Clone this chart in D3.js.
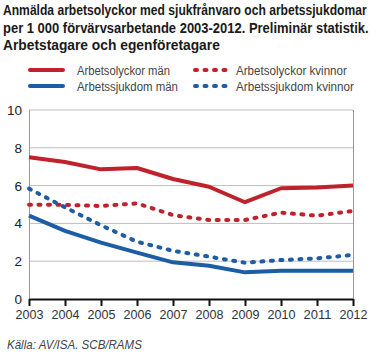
<!DOCTYPE html>
<html><head><meta charset="utf-8">
<script src="https://cdn.jsdelivr.net/npm/d3@7"></script>
<style>body{margin:0;background:#fff}svg{display:block}</style>
</head><body>
<script>
const years = [2003,2004,2005,2006,2007,2008,2009,2010,2011,2012];
const olyckorMan = [7.5,7.25,6.86,6.93,6.35,5.94,5.12,5.86,5.9,6.0];
const olyckorKvinnor = [4.99,4.98,4.92,5.06,4.44,4.18,4.18,4.57,4.41,4.66];
const sjukdomMan = [4.41,3.6,2.98,2.45,1.94,1.76,1.41,1.5,1.5,1.49];
const sjukdomKvinnor = [5.84,4.85,3.9,3.03,2.55,2.24,1.92,2.06,2.15,2.33];
const yTicks = [0,2,4,6,8,10];
const titleLines = ["Anmälda arbetsolyckor med sjukfrånvaro och arbetssjukdomar",
  "per 1 000 förvärvsarbetande 2003-2012. Preliminär statistik.",
  "Arbetstagare och egenföretagare"];
const source = "Källa: AV/ISA. SCB/RAMS";

const RED = "#c0222b", BLUE = "#1c5da4";
const series = [
  {name:"Arbetsolyckor män", values:olyckorMan, color:RED, dotted:false},
  {name:"Arbetsolyckor kvinnor", values:olyckorKvinnor, color:RED, dotted:true},
  {name:"Arbetssjukdom män", values:sjukdomMan, color:BLUE, dotted:false},
  {name:"Arbetssjukdom kvinnor", values:sjukdomKvinnor, color:BLUE, dotted:true}
];

const W = 383, H = 357;
const FONT = "'Liberation Sans', Arial, sans-serif";
const svg = d3.select("body").append("svg").attr("width", W).attr("height", H)
  .style("font-family", FONT);

// squeeze a text horizontally to a target width using a transform
function fitText(sel, x0, y0, target) {
  sel.attr("x", 0).attr("y", 0);
  const w = sel.node().getComputedTextLength();
  const s = Math.min(1, target / w);
  sel.attr("transform", `translate(${x0},${y0}) scale(${s},1)`);
}

// title
const titleW = [364, 366, 217];
svg.append("g").selectAll("text").data(titleLines).join("text")
  .attr("font-size", 14.5).attr("font-weight", "bold").attr("fill", "#1a1a1a")
  .text(d => d)
  .each(function(d,i){ fitText(d3.select(this), 3, 15 + i*17.6, titleW[i]); });

const x = d3.scaleLinear().domain([2003, 2012]).range([29, 353]);
const y = d3.scaleLinear().domain([0, 10]).range([299, 110]);

// grid
svg.append("g").selectAll("line").data(yTicks.filter(t => t > 0)).join("line")
  .attr("x1", 29).attr("x2", 353).attr("y1", d => y(d)).attr("y2", d => y(d))
  .attr("stroke", "#bdbdbd").attr("stroke-width", 1);
// frame sides
svg.append("line").attr("x1", 29.5).attr("x2", 29.5).attr("y1", y(10)).attr("y2", y(0)).attr("stroke", "#9a9a9a");
svg.append("line").attr("x1", 353.5).attr("x2", 353.5).attr("y1", y(10)).attr("y2", y(0)).attr("stroke", "#9a9a9a");

// y axis labels
svg.append("g").selectAll("text").data(yTicks).join("text")
  .attr("x", 22).attr("y", d => y(d) + 5).attr("text-anchor", "end")
  .attr("font-size", 13.5).attr("fill", "#222").text(d => d);

// x axis
const xAxis = d3.axisBottom(x).tickValues(years).tickFormat(d3.format("d")).tickSize(7).tickSizeOuter(0);
const gx = svg.append("g").attr("transform", `translate(0,${y(0)})`).call(xAxis);
gx.select(".domain").attr("stroke", "#111").attr("stroke-width", 2);
gx.selectAll(".tick line").attr("stroke", "#111").attr("stroke-width", 2);
gx.selectAll(".tick text").attr("font-size", 13).attr("fill", "#333")
  .attr("font-family", FONT).attr("dy", 0).attr("text-anchor", "start")
  .each(function(){ fitText(d3.select(this), -14, 20, 28); });

// lines
const line = d3.line().x((d,i) => x(years[i])).y(d => y(d)).curve(d3.curveLinear);
svg.append("g").selectAll("path").data(series).join("path")
  .attr("d", d => line(d.values)).attr("fill", "none")
  .attr("stroke", d => d.color).attr("stroke-width", 4)
  .attr("stroke-linecap", d => d.dotted ? "round" : "butt")
  .attr("stroke-linejoin", "round")
  .attr("stroke-dasharray", d => d.dotted ? "2,7.5" : null);

// legend
const legPos = [[30,70],[192,70],[30,86],[192,86]];
const legW = [93, 111, 101, 118];
const lg = svg.append("g").selectAll("g").data(series).join("g")
  .attr("transform", (d,i) => `translate(${legPos[i][0]},${legPos[i][1]})`);
lg.append("line").attr("x1", d => d.dotted ? 3 : 0).attr("x2", d => d.dotted ? 34 : 33)
  .attr("y1", 0).attr("y2", 0).attr("stroke", d => d.color).attr("stroke-width", 4)
  .attr("stroke-linecap", "round").attr("stroke-dasharray", d => d.dotted ? "2,7.5" : null);
lg.append("text").attr("font-size", 13.5).attr("fill", "#444")
  .text(d => d.name)
  .each(function(d,i){ fitText(d3.select(this), i % 2 ? 44 : 47, 5, legW[i]); });

// source
svg.append("text").attr("font-size", 12)
  .attr("font-style", "italic").attr("fill", "#444").text(source)
  .call(sel => fitText(sel, 7, 349, 135));
</script>
</body></html>
